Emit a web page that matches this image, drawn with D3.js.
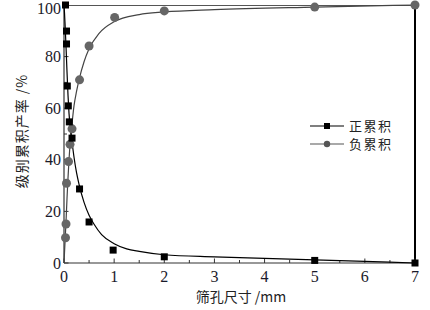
<!DOCTYPE html>
<html><head><meta charset="utf-8">
<script src="https://cdn.jsdelivr.net/npm/d3@7"></script>
<style>body{margin:0;background:#fff}svg{display:block}</style>
</head><body>
<svg id="c" width="430" height="310"></svg>
<script>
// Data
const posX = [0.03, 0.05, 0.05, 0.066, 0.086, 0.106, 0.16, 0.31, 0.5, 0.98, 2, 5, 7];
const posY = [100, 89.9, 84.9, 68.6, 60.9, 54.7, 48.4, 28.7, 15.9, 5, 2.4, 1, 0];
const negX = [0.03, 0.04, 0.05, 0.09, 0.12, 0.16, 0.31, 0.5, 1.01, 2, 5, 7];
const negY = [9.8, 15.1, 30.9, 39.3, 46, 52, 71, 84.1, 95.2, 97.7, 99.2, 100];
// fitted curves
const posFitX = [0, 0.01, 0.02, 0.04, 0.06, 0.08, 0.1, 0.13, 0.16, 0.2, 0.25, 0.3, 0.4, 0.5, 0.6, 0.75, 1, 1.25, 1.5, 2, 3, 4, 5, 6, 7];
const posFitY = [100, 97, 93, 84, 74, 65, 58, 52, 47, 41, 35, 30.5, 23.5, 18.5, 15, 11, 7.5, 5.5, 4.5, 3.2, 2.4, 1.8, 1.2, 0.6, 0];
const negFitX = [0, 0.01, 0.02, 0.04, 0.06, 0.08, 0.1, 0.13, 0.16, 0.2, 0.25, 0.3, 0.4, 0.5, 0.7, 1, 1.5, 2, 3, 5, 7];
const negFitY = [0, 4, 8, 16, 25, 33, 40, 48, 54, 61, 66.5, 71, 78, 83, 89, 93.5, 96.3, 97.3, 98.2, 99.2, 100];
const xTicks = [0, 1, 2, 3, 4, 5, 6, 7];
const yTicks = [0, 20, 40, 60, 80, 100];
const legendLabels = ["正累积", "负累积"];
const xTitle = "筛孔尺寸 /mm";
const yTitle = "级别累积产率 /%";

const svg = d3.select("#c");
const L = 64, R = 415, T = 5, B = 263;
const x = d3.scaleLinear().domain([0, 7]).range([L, R]);
const y = d3.scaleLinear().domain([0, 100]).range([B, T]);
const serif = "'Liberation Serif','DejaVu Serif',serif";
const cjk = "'Noto Sans CJK SC','Noto Sans',sans-serif";

// frame
svg.append("line").attr("x1", L).attr("x2", R).attr("y1", T + 0.5).attr("y2", T + 0.5).attr("stroke", "#555").attr("stroke-width", 1);
svg.append("line").attr("x1", R).attr("x2", R).attr("y1", T).attr("y2", B).attr("stroke", "#000").attr("stroke-width", 2);

// x axis
const xAx = svg.append("g").attr("transform", `translate(0,${B})`);
xAx.append("line").attr("x1", L).attr("x2", R).attr("stroke", "#333").attr("stroke-width", 1.2);
d3.range(0, 7.01, 0.5).forEach(v => {
  const major = Math.abs(v - Math.round(v)) < 1e-6;
  xAx.append("line").attr("x1", x(v)).attr("x2", x(v)).attr("y1", 0).attr("y2", major ? -4.5 : -3).attr("stroke", "#333");
});
xAx.selectAll("text.t").data(xTicks).join("text").attr("class", "t")
  .attr("x", d => x(d)).attr("y", 19).attr("text-anchor", "middle")
  .attr("font-family", serif).attr("font-size", 16).attr("fill", "#1a1a2a").text(d => d);

// y axis
const yAx = svg.append("g").attr("transform", `translate(${L},0)`);
yAx.append("line").attr("y1", T).attr("y2", B).attr("stroke", "#333").attr("stroke-width", 1.2);
d3.range(0, 100.1, 10).forEach(v => {
  const major = v % 20 === 0;
  yAx.append("line").attr("y1", y(v)).attr("y2", y(v)).attr("x1", 0).attr("x2", major ? 4.5 : 3).attr("stroke", "#333");
});
yAx.selectAll("text.t").data(yTicks).join("text").attr("class", "t")
  .attr("x", -3).attr("y", d => Math.max(y(d) + 5.5, 14)).attr("text-anchor", "end")
  .attr("font-family", serif).attr("font-size", 16).attr("fill", "#1a1a2a").text(d => d);

// titles
svg.append("text").attr("x", 241).attr("y", 302).attr("text-anchor", "middle")
  .attr("font-family", cjk).attr("font-size", 14).attr("fill", "#222").text(xTitle);
svg.append("text").attr("transform", "translate(27,131) rotate(-90)").attr("text-anchor", "middle")
  .attr("font-family", cjk).attr("font-size", 14).attr("letter-spacing", 1).attr("fill", "#222").text(yTitle);

// curves
const line = d3.line().x(d => x(d[0])).y(d => y(d[1])).curve(d3.curveMonotoneX);
svg.append("path").datum(negFitX.map((v, i) => [v, negFitY[i]])).attr("d", line)
  .attr("fill", "none").attr("stroke", "#444").attr("stroke-width", 1.2);
svg.append("path").datum(posFitX.map((v, i) => [v, posFitY[i]])).attr("d", line)
  .attr("fill", "none").attr("stroke", "#000").attr("stroke-width", 1.2);

// markers
svg.selectAll("circle.n").data(negX.map((v, i) => [v, negY[i]])).join("circle").attr("class", "n")
  .attr("cx", d => x(d[0])).attr("cy", d => y(d[1])).attr("r", 4.5).attr("fill", "#666");
const s = 7;
svg.selectAll("rect.p").data(posX.map((v, i) => [v, posY[i]])).join("rect").attr("class", "p")
  .attr("x", d => x(d[0]) - s / 2).attr("y", d => y(d[1]) - s / 2).attr("width", s).attr("height", s).attr("fill", "#000");

// legend
const lg = svg.append("g");
[["#000", "sq"], ["#555", "ci"]].forEach((c, i) => {
  const yy = 126 + i * 18;
  lg.append("line").attr("x1", 310).attr("x2", 344).attr("y1", yy).attr("y2", yy).attr("stroke", c[0]).attr("stroke-width", 1.2);
  if (c[1] === "sq") lg.append("rect").attr("x", 324).attr("y", yy - 3).attr("width", 6).attr("height", 6).attr("fill", "#000");
  else lg.append("circle").attr("cx", 327).attr("cy", yy).attr("r", 3.2).attr("fill", "#555");
  lg.append("text").attr("x", 349).attr("y", yy + 4.5).attr("font-family", cjk).attr("font-size", 13)
    .attr("letter-spacing", 1.5).attr("fill", "#222").text(legendLabels[i]);
});
</script>
</body></html>
